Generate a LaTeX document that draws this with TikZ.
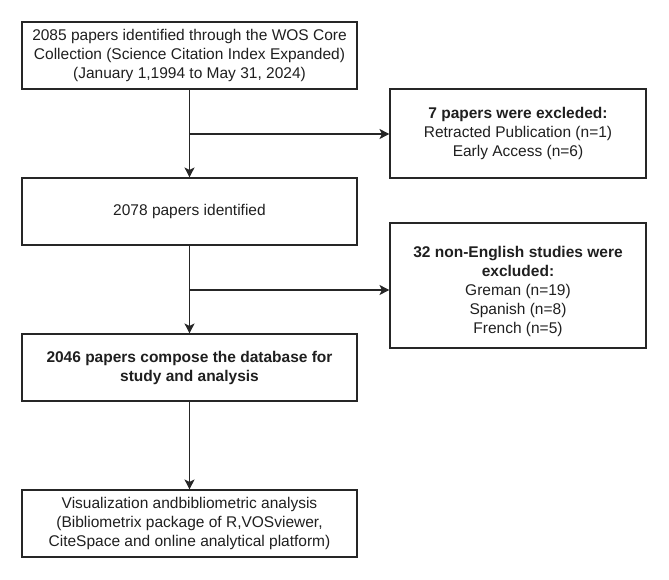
\documentclass[tikz,border=0pt]{standalone}
\usepackage{fontspec}
\setmainfont{Liberation Sans}
\usetikzlibrary{arrows.meta}
\begin{document}
\begin{tikzpicture}[x=1pt,y=-1pt,
  box/.style={draw=black!85, line width=1.1pt, rectangle, align=center, inner sep=0pt,
    font=\fontsize{15.5}{19}\selectfont, text=black!88},
  conn/.style={draw=black!85, line width=1.1pt, -{Stealth[length=10pt,width=10pt,inset=2.5pt]}}]
\useasboundingbox (0,0) rectangle (669,580);
\node[box, minimum width=335, minimum height=67] (b1) at (189.5,55.5)
  {2085 papers identified through the WOS Core\\Collection (Science Citation Index Expanded)\\(January 1,1994 to May 31, 2024)};
\node[box, minimum width=335, minimum height=67] (b2) at (189.5,211.5) {2078 papers identified};
\node[box, minimum width=335, minimum height=67] (b3) at (189.5,367.5)
  {\bfseries 2046 papers compose the database for\\\bfseries study and analysis};
\node[box, minimum width=335, minimum height=67] (b4) at (189.5,523.5)
  {Visualization andbibliometric analysis\\(Bibliometrix package of R,VOSviewer,\\CiteSpace and online analytical platform)};
\node[box, minimum width=256, minimum height=89] (e1) at (518,133.5)
  {\bfseries 7 papers were excleded:\\Retracted Publication (n=1)\\Early Access (n=6)};
\node[box, minimum width=256, minimum height=125,
  label={[align=center, font=\fontsize{15.5}{19}\selectfont, text=black!88, yshift=-5.5pt]center:{\bfseries 32 non-English studies were\\\bfseries excluded:\\Greman (n=19)\\Spanish (n=8)\\French (n=5)}}] (e2) at (518,285.5) {};
\coordinate (j1) at (189.5,134);
\coordinate (j2) at (189.5,290);
\draw[conn] (b1.south) -- (b2.north);
\draw[conn] (j1) -- (e1.west |- j1);
\draw[conn] (b2.south) -- (b3.north);
\draw[conn] (j2) -- (e2.west |- j2);
\draw[conn] (b3.south) -- (b4.north);
\end{tikzpicture}
\end{document}
